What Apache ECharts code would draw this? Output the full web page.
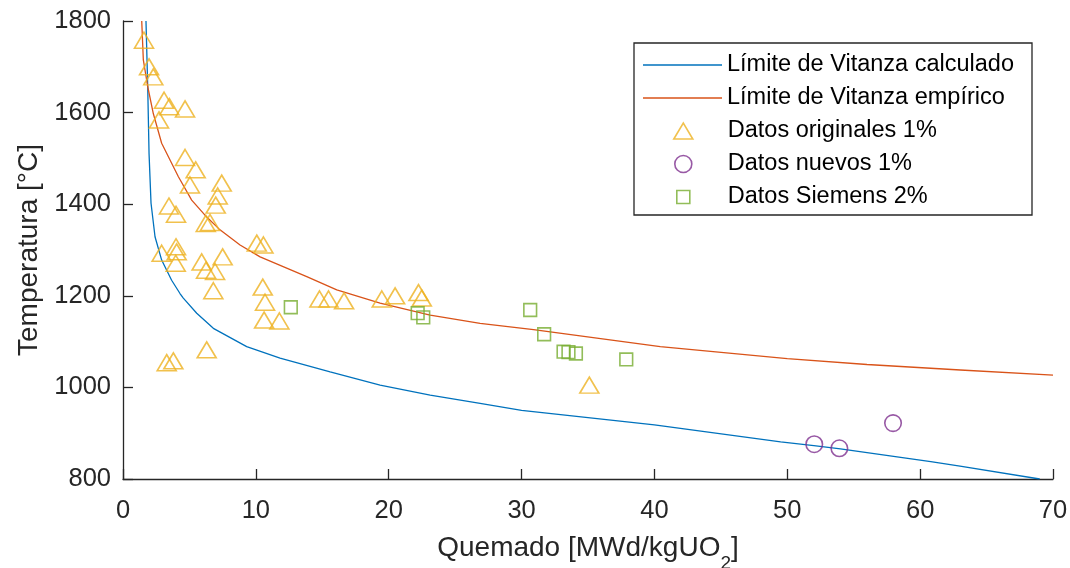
<!DOCTYPE html>
<html>
<head>
<meta charset="utf-8">
<script src="https://cdn.jsdelivr.net/npm/echarts@6/dist/echarts.min.js"></script>
<style>
  html, body { margin: 0; padding: 0; background: #fff; }
  #chart { width: 1070px; height: 568px; }
</style>
</head>
<body>
<div id="chart"></div>
<script>
// Axis ranges: [min, max, step]
const burnupAxis = [0, 70, 10];
const tempAxis = [800, 1800, 200];

// Vitanza threshold, calculated curve (burnup MWd/kgUO2, temperature °C)
const calcBurnup = [1.73, 1.86, 1.96, 2.11, 2.41, 2.91, 3.66, 4.29, 4.54, 5.55, 6.8, 9.31, 11.82, 15.59, 19.35, 23.12, 26.88, 30, 40, 49.5, 52, 54, 60.8, 63, 69];
const calcTemp   = [1800, 1657, 1511, 1402, 1329, 1278, 1234, 1205, 1195, 1162, 1129, 1089, 1064, 1034, 1005, 983, 965, 950, 918, 881, 873, 866, 838, 828, 800];

// Vitanza threshold, empirical curve
const empBurnup = [1.41, 1.53, 1.86, 2.28, 2.91, 4.17, 5.17, 6.17, 7.3, 8.81, 10.32, 13.83, 16.09, 19.35, 23.12, 26.88, 30.9, 40.44, 50, 56, 63.03, 70];
const empTemp   = [1800, 1715, 1657, 1598, 1533, 1460, 1409, 1376, 1344, 1311, 1285, 1242, 1213, 1184, 1158, 1140, 1126, 1089, 1063, 1050, 1038, 1027];

// Original data, 1%
const origBurnup = [1.58, 1.96, 2.28, 3.09, 3.49, 4.67, 2.71, 4.67, 5.47, 5.04, 7.43, 7.13, 6.98, 3.46, 3.99, 6.23, 6.55, 2.91, 3.99, 4.04, 3.97, 5.92, 6.25, 6.93, 7.5, 6.8, 6.3, 3.29, 3.79, 10.07, 10.57, 10.52, 10.69, 10.62, 11.77, 14.79, 15.47, 16.64, 19.48, 20.48, 22.24, 22.49, 35.1];
const origTemp   = [1758, 1700, 1678, 1627, 1613, 1608, 1584, 1502, 1475, 1442, 1446, 1418, 1398, 1396, 1378, 1358, 1360, 1293, 1307, 1296, 1271, 1274, 1256, 1253, 1285, 1211, 1082, 1054, 1058, 1315, 1311, 1219, 1186, 1147, 1145, 1193, 1193, 1189, 1193, 1200, 1207, 1195, 1005];

// New data, 1%
const newBurnup = [52.03, 53.92, 57.96];
const newTemp   = [876, 867, 922];

// Siemens data, 2%
const siemensBurnup = [12.63, 22.18, 22.6, 30.65, 31.7, 33.16, 33.53, 34.09, 37.88];
const siemensTemp   = [1175, 1162, 1153, 1169, 1116, 1078, 1077, 1074, 1061];

const names = [
  'Límite de Vitanza calculado',
  'Límite de Vitanza empírico',
  'Datos originales 1%',
  'Datos nuevos 1%',
  'Datos Siemens 2%'
];
const colors = ['#0072BD', '#D95319', '#EDB120', '#7E2F8E', '#77AC30'];

const zip = (xs, ys) => xs.map((x, i) => [x, ys[i]]);

const FONT = "'Liberation Sans', Arial, Helvetica, sans-serif";
const INK = '#262626';
const LW = 1.3;
const MLW = 1.6;

const triPath = 'path://M0,16L9.5,0L19,16Z';
const sqPath = 'path://M0,0L13,0L13,13L0,13Z';
const linePath = 'path://M0,0L79,0L79,1.3L0,1.3Z';

// One legend block per row so each icon keeps its own size.
// Marker icons sit centred under the line samples (centre x = 682.5).
const ICON_SLOT = 79;
const rowCenters = [65, 98, 131, 164, 197];
const legendIcons = [linePath, linePath, triPath, 'circle', sqPath];
const legendIconH = [20, 20, 16, 17, 13];
const legendIconW = [79, 79, 19, 17, 13];
const LEGEND_LH = 26;
const legends = names.map((n, i) => ({
  show: true,
  left: 643 + (ICON_SLOT - legendIconW[i]) / 2,
  top: rowCenters[i] - LEGEND_LH / 2,
  padding: 0,
  orient: 'vertical',
  itemWidth: ICON_SLOT,
  itemHeight: legendIconH[i],
  symbolKeepAspect: true,
  selectedMode: false,
  z: 6,
  data: [{ name: n, icon: legendIcons[i] }],
  itemStyle: i < 2
    ? { color: colors[i], borderWidth: 0 }
    : { color: 'rgba(0,0,0,0)', borderColor: colors[i], borderWidth: MLW },
  textStyle: { fontFamily: FONT, fontSize: 23.5, color: '#000', lineHeight: LEGEND_LH }
}));

const chart = echarts.init(document.getElementById('chart'), null, { renderer: 'canvas' });

chart.setOption({
  backgroundColor: '#fff',
  animation: false,
  grid: { left: 123, top: 21, right: 17, bottom: 89, containLabel: false, outerBoundsMode: 'none' },
  legend: legends,
  graphic: [{
    type: 'rect',
    z: 5,
    shape: { x: 634, y: 43, width: 398, height: 172 },
    style: { fill: '#fff', stroke: INK, lineWidth: LW }
  }],
  xAxis: {
    type: 'value',
    min: burnupAxis[0], max: burnupAxis[1], interval: burnupAxis[2],
    name: 'Quemado [MWd/kgUO{sub|2}]',
    nameLocation: 'middle',
    nameGap: 45,
    nameTextStyle: {
      fontFamily: FONT, fontSize: 28, color: INK,
      rich: { sub: { fontFamily: FONT, fontSize: 19, color: INK, padding: [30, 0, 0, 0] } }
    },
    axisLine: { show: true, onZero: false, lineStyle: { color: INK, width: LW } },
    axisTick: { show: true, inside: true, length: 10, lineStyle: { color: INK, width: LW } },
    axisLabel: { fontFamily: FONT, fontSize: 25.5, color: INK, margin: 19, formatter: v => String(v) },
    splitLine: { show: false }
  },
  yAxis: {
    type: 'value',
    min: tempAxis[0], max: tempAxis[1], interval: tempAxis[2],
    name: 'Temperatura [°C]',
    nameLocation: 'middle',
    nameGap: 74,
    nameTextStyle: { fontFamily: FONT, fontSize: 28, color: INK },
    axisLine: { show: true, onZero: false, lineStyle: { color: INK, width: LW } },
    axisTick: { show: true, inside: true, length: 10, lineStyle: { color: INK, width: LW } },
    axisLabel: { fontFamily: FONT, fontSize: 25.5, color: INK, margin: 12, padding: [8, 0, 0, 0], formatter: v => String(v) },
    splitLine: { show: false }
  },
  series: [
    {
      name: names[0], type: 'line', data: zip(calcBurnup, calcTemp),
      showSymbol: false, symbol: 'none', clip: true, z: 2,
      lineStyle: { color: colors[0], width: LW }, itemStyle: { color: colors[0] }
    },
    {
      name: names[1], type: 'line', data: zip(empBurnup, empTemp),
      showSymbol: false, symbol: 'none', clip: true, z: 2,
      lineStyle: { color: colors[1], width: LW }, itemStyle: { color: colors[1] }
    },
    {
      name: names[2], type: 'scatter', data: zip(origBurnup, origTemp),
      symbol: 'triangle', symbolSize: [19, 16], z: 3,
      itemStyle: { color: 'rgba(0,0,0,0)', borderColor: colors[2], borderWidth: MLW }
    },
    {
      name: names[3], type: 'scatter', data: zip(newBurnup, newTemp),
      symbol: 'circle', symbolSize: 16.5, z: 3,
      itemStyle: { color: 'rgba(0,0,0,0)', borderColor: colors[3], borderWidth: MLW }
    },
    {
      name: names[4], type: 'scatter', data: zip(siemensBurnup, siemensTemp),
      symbol: 'rect', symbolSize: 12.7, z: 3,
      itemStyle: { color: 'rgba(0,0,0,0)', borderColor: colors[4], borderWidth: MLW }
    }
  ]
});
</script>
</body>
</html>
